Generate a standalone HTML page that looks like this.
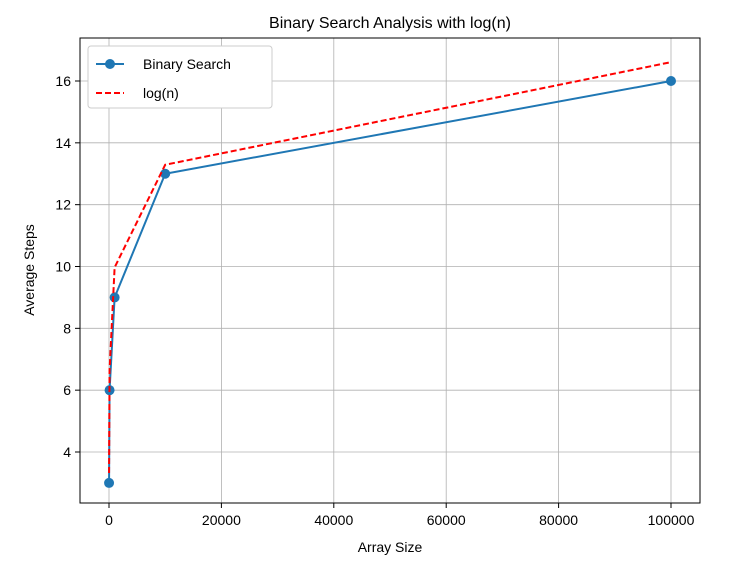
<!DOCTYPE html>
<html><head><meta charset="utf-8"><style>
body{margin:0;background:#fff;}
svg text{font-family:"Liberation Sans","DejaVu Sans",sans-serif;fill:#000;}
</style></head><body>
<svg id="chart" width="738" height="565">
<rect x="80" y="38" width="620" height="465" fill="#fff" stroke="none"/>
<g id="grid"></g><g id="series"></g><g id="axes"></g>
<rect x="80" y="38" width="620" height="465" fill="none" stroke="#000" stroke-width="1"/>
<text x="390" y="28" text-anchor="middle" font-size="16">Binary Search Analysis with log(n)</text>
<text x="390" y="552" text-anchor="middle" font-size="14">Array Size</text>
<text x="34" y="270" text-anchor="middle" font-size="14" transform="rotate(-90 34 270)">Average Steps</text>
<g>
<rect x="88" y="46" width="184" height="62" rx="3" fill="#fff" stroke="#ccc"/>
<line x1="96" y1="64" x2="124" y2="64" stroke="#1f77b4" stroke-width="2"/>
<circle cx="110" cy="64" r="5" fill="#1f77b4"/>
<text x="143" y="69" font-size="14">Binary Search</text>
<line x1="96" y1="93" x2="124" y2="93" stroke="#ff0000" stroke-width="2" stroke-dasharray="6,3"/>
<text x="143" y="98" font-size="14">log(n)</text>
</g>
</svg>
<script>
const sizes=[10,100,1000,10000,100000];
const steps=[3,6,9,13,16];
const logn=[3.32,6.64,9.97,13.29,16.61];
const xTicks=[0,20000,40000,60000,80000,100000];
const yTicks=[4,6,8,10,12,14,16];
const NS="http://www.w3.org/2000/svg";
function sx(v){return 109+v*(562/100000);}
function sy(v){return 452-(v-4)*(371/12);}
function mk(t,a,p){const e=document.createElementNS(NS,t);for(const k in a)e.setAttribute(k,a[k]);p.appendChild(e);return e;}
const grid=document.getElementById('grid'),axes=document.getElementById('axes'),series=document.getElementById('series');
xTicks.forEach(v=>{const x=sx(v);
const g=mk('line',{x1:x,y1:38,x2:x,y2:503,stroke:'#b0b0b0','stroke-width':0.8},grid);


const t=mk('line',{x1:x,y1:503,x2:x,y2:508,stroke:'#000'},axes);


const l=mk('text',{x:x,y:525,'text-anchor':'middle','font-size':14},axes);l.textContent=v;

});
yTicks.forEach(v=>{const y=sy(v);
const g=mk('line',{x1:80,y1:y,x2:700,y2:y,stroke:'#b0b0b0','stroke-width':0.8},grid);


const t=mk('line',{x1:75,y1:y,x2:80,y2:y,stroke:'#000'},axes);


const l=mk('text',{x:71,y:y+5,'text-anchor':'end','font-size':14},axes);l.textContent=v;

});
const p1=mk('polyline',{points:sizes.map((s,i)=>sx(s)+','+sy(steps[i])).join(' '),fill:'none',stroke:'#1f77b4','stroke-width':2},series);


sizes.forEach((s,i)=>{const c=mk('circle',{cx:sx(s),cy:sy(steps[i]),r:5,fill:'#1f77b4'},series);

});
const p2=mk('polyline',{points:sizes.map((s,i)=>sx(s)+','+sy(logn[i])).join(' '),fill:'none',stroke:'#ff0000','stroke-width':2,'stroke-dasharray':'6,3'},series);


</script>
</body></html>
